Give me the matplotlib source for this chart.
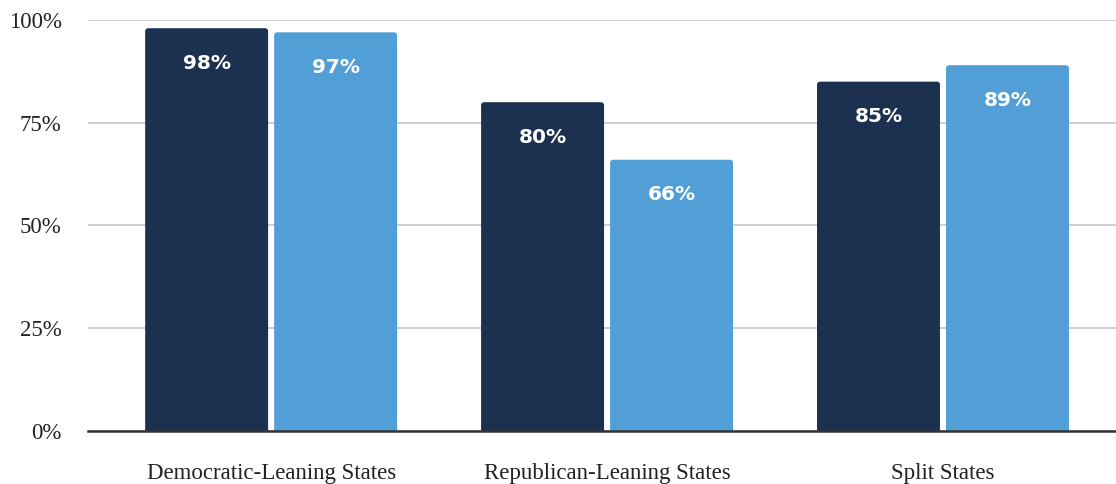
import matplotlib.pyplot as plt
from matplotlib.patches import FancyBboxPatch
import numpy as np

# data
categories = ['Democratic-Leaning States', 'Republican-Leaning States', 'Split States']
series_a = [98, 80, 85]
series_b = [97, 66, 89]
yticks = [0, 25, 50, 75, 100]

dark = '#1C3050'
light = '#529FD7'

fig = plt.figure(figsize=(11.16, 4.84), dpi=100)
ax = fig.add_axes([0.0789, 0.1095, 0.9211, 0.8492])

x = np.arange(len(categories))
w = 0.366
off = 0.192

bars = []
for vals, col, dx in [(series_a, dark, -off), (series_b, light, off)]:
    cont = ax.bar(x + dx, vals, width=w, color=col, zorder=2)
    bars.append((cont, vals))

# swap plain rects for ones with rounded tops
for cont, vals in bars:
    for rect, v in zip(cont, vals):
        rx, rw, rh = rect.get_x(), rect.get_width(), rect.get_height()
        fc = rect.get_facecolor()
        rect.set_visible(False)
        p = FancyBboxPatch((rx, -3), rw, rh + 3,
                           boxstyle='round,pad=0,rounding_size=0.009',
                           mutation_aspect=81, facecolor=fc,
                           edgecolor='none', zorder=2)
        ax.add_patch(p)
        ax.text(rx + rw / 2, rh - 8.5, f'{v}%', ha='center', va='center',
                color='white', fontsize=14.5, fontweight='bold',
                family='DejaVu Sans', zorder=3)

ax.set_xlim(-0.545, 2.515)
ax.set_ylim(0, 100)
ax.set_yticks(yticks)
ax.set_yticklabels([f'{t}%' for t in yticks], family='Liberation Serif', fontsize=16.5)
ax.set_xticks(x)
ax.set_xticklabels(categories, family='Liberation Serif', fontsize=16.5)
ax.tick_params(axis='y', length=0, pad=19, colors='#222222')
ax.tick_params(axis='x', length=0, pad=23, colors='#222222')
ax.yaxis.grid(True, color='#CCCCCC', linewidth=1.3, zorder=0)
ax.set_axisbelow(True)
for s in ['top', 'right', 'left']:
    ax.spines[s].set_visible(False)
ax.spines['bottom'].set_color('#333333')
ax.spines['bottom'].set_linewidth(1.8)
ax.spines['bottom'].set_zorder(4)

fig.savefig('out.png', dpi=100, facecolor='white')
